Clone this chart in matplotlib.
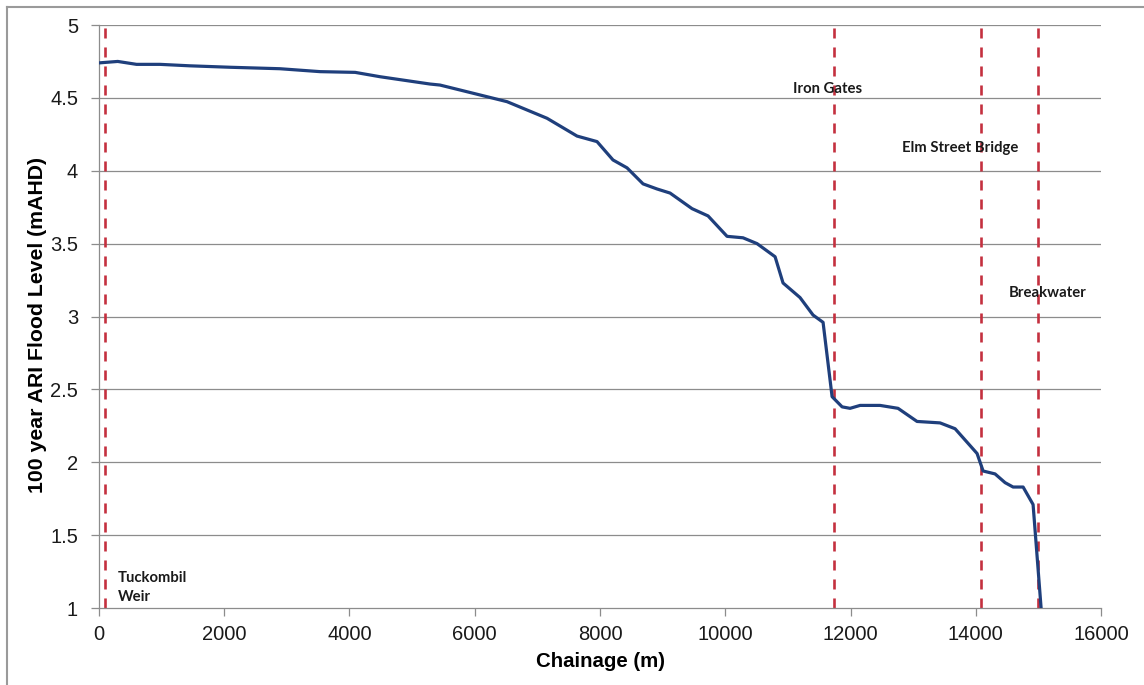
import matplotlib.pyplot as plt
from matplotlib.lines import Line2D

# flood profile along the channel
chainage = [0, 300, 600, 975, 1450, 2100, 2890, 3530, 4090, 4490, 5285, 5445,
            5765, 6515, 7154, 7633, 7952, 8207, 8431, 8687, 8910, 9118, 9469,
            9725, 10028, 10283, 10507, 10795, 10922, 11193, 11401, 11561,
            11705, 11865, 11992, 12152, 12471, 12758, 13061, 13429, 13669,
            14020, 14116, 14307, 14467, 14595, 14755, 14914, 15042]
level = [4.74, 4.75, 4.73, 4.73, 4.72, 4.71, 4.70, 4.68, 4.675, 4.645, 4.595,
         4.588, 4.554, 4.474, 4.36, 4.238, 4.20, 4.074, 4.02, 3.91, 3.875,
         3.847, 3.74, 3.69, 3.55, 3.54, 3.50, 3.41, 3.23, 3.13, 3.01, 2.96,
         2.45, 2.38, 2.37, 2.39, 2.39, 2.37, 2.28, 2.27, 2.23, 2.06, 1.94,
         1.92, 1.86, 1.83, 1.83, 1.71, 1.00]

# structures marked with dashed lines
struct_x = [100, 11730, 14080, 15000]
labels = ['Tuckombil\nWeir', 'Iron Gates', 'Elm Street Bridge', 'Breakwater']
label_x = [300, 11625, 13750, 15140]
label_y = [1.14, 4.56, 4.156, 3.16]
label_ha = ['left', 'center', 'center', 'center']

x_ticks = list(range(0, 16001, 2000))
y_ticks = [1, 1.5, 2, 2.5, 3, 3.5, 4, 4.5, 5]
y_tick_labels = ['1', '1.5', '2', '2.5', '3', '3.5', '4', '4.5', '5']

plt.rcParams['font.family'] = ['Liberation Sans', 'DejaVu Sans']

fig = plt.figure(figsize=(11.44, 6.85), dpi=100)
ax = fig.add_axes([0.0865, 0.1124, 0.876, 0.8511])

grid_c = '#8c8c8c'
for y in y_ticks[1:]:
    ax.axhline(y, color=grid_c, lw=0.9, zorder=1)

for x in struct_x:
    ax.axvline(x, color='#c4303f', lw=1.9, dashes=(3.8, 3.4), zorder=2)

ax.plot(chainage, level, color='#1f3f7c', lw=2.3, zorder=3)

for t, x, y, ha in zip(labels, label_x, label_y, label_ha):
    ax.text(x, y, t, ha=ha, va='center', fontsize=10.7, fontweight='bold',
            family=['Lato', 'DejaVu Sans'], color='#1a1a1a', linespacing=1.45,
            zorder=4)

ax.set_xlim(0, 16000)
ax.set_ylim(1, 5)
ax.set_xticks(x_ticks)
ax.set_yticks(y_ticks)
ax.set_yticklabels(y_tick_labels)
ax.tick_params(axis='both', labelsize=14.5, colors=grid_c, labelcolor='#1a1a1a',
               length=6, width=0.9)
ax.tick_params(axis='x', pad=6)
ax.tick_params(axis='y', pad=9)
for s in ['top', 'right']:
    ax.spines[s].set_visible(False)
for s in ['left', 'bottom']:
    ax.spines[s].set_color(grid_c)
    ax.spines[s].set_linewidth(0.9)

ax.set_xlabel('Chainage (m)', fontsize=14.7, fontweight='bold', labelpad=6)
ax.set_ylabel('100 year ARI Flood Level (mAHD)', fontsize=15.3,
              fontweight='bold', labelpad=3)
ax.yaxis.set_label_coords(-0.052, 0.485)

# outer frame (top and left edges visible)
fig.add_artist(Line2D([0.006, 1.0], [0.99, 0.99], color='#9a9a9a', lw=1.5,
                      transform=fig.transFigure))
fig.add_artist(Line2D([0.006, 0.006], [0.0, 0.99], color='#9a9a9a', lw=1.5,
                      transform=fig.transFigure))

fig.savefig('out.png', dpi=100)
